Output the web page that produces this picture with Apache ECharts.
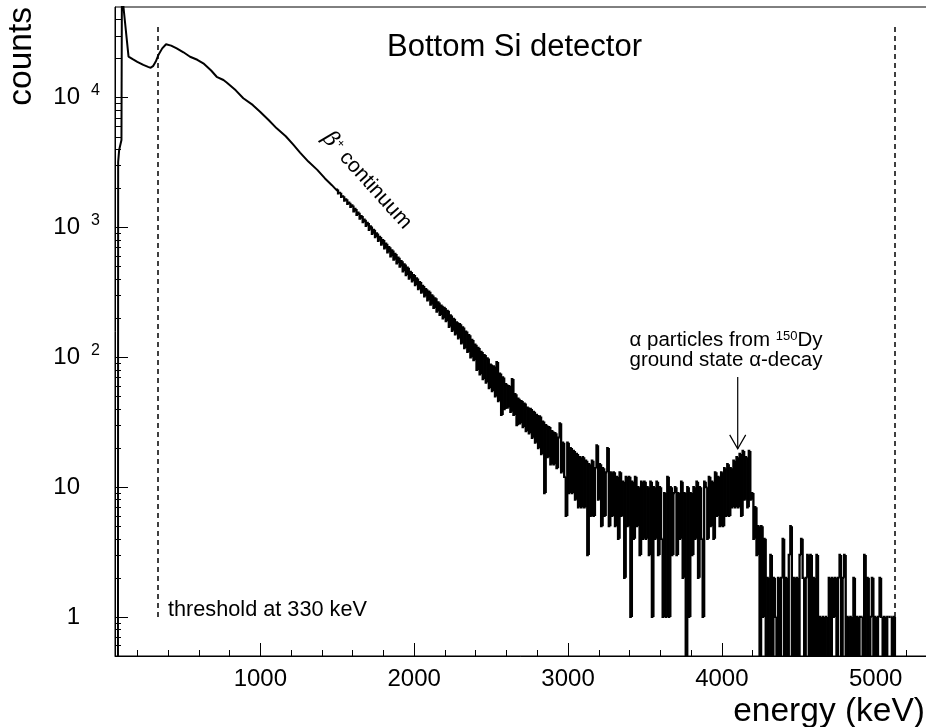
<!DOCTYPE html>
<html><head><meta charset="utf-8">
<script src="https://cdn.jsdelivr.net/npm/echarts@6/dist/echarts.min.js"></script>
<style>html,body{margin:0;padding:0;background:#fff}#c{width:926px;height:727px}</style>
</head><body><div id="c"></div>
<script>
// ---------- axis ticks / labels ----------
const xMajorTicks = [1000, 2000, 3000, 4000, 5000];
const xMajorLabels = ['1000', '2000', '3000', '4000', '5000'];
const xMinorTicks = [200, 400, 600, 800, 1200, 1400, 1600, 1800, 2200, 2400, 2600, 2800,
  3200, 3400, 3600, 3800, 4200, 4400, 4600, 4800, 5200];
const yMajorTicks = [1, 10, 100, 1000, 10000];
const yLabelBase = ['1', '10', '10', '10', '10'];
const yLabelExp = ['', '', '2', '3', '4'];
const yMinorTicks = [0.6, 0.7, 0.8, 0.9, 2, 3, 4, 5, 6, 7, 8, 9, 20, 30, 40, 50, 60, 70, 80, 90,
  200, 300, 400, 500, 600, 700, 800, 900, 2000, 3000, 4000, 5000, 6000, 7000, 8000, 9000,
  20000, 30000, 40000];

// ---------- smooth low-energy part of the spectrum (keV, counts) ----------
const smoothEnergy = [55, 74, 75.5, 82, 97, 101, 107, 110, 143, 170, 200, 239, 270, 287, 304, 320, 337,
  362, 387, 420, 456, 500, 543, 590, 629, 680, 716, 760, 781, 840, 889, 950, 998, 1055, 1106,
  1165, 1214, 1258, 1312, 1370, 1420, 1465, 1500];
const smoothCounts = [0, 0, 3200, 3950, 4720, 200000, 200000, 50000, 20700, 19800, 18900, 17900, 17300,
  17000, 17600, 19000, 21300, 24000, 25800, 25200, 24000, 22400, 20700, 19600, 18400, 16200,
  14500, 13700, 13100, 11400, 9900, 8800, 7800, 6700, 5810, 5050, 4350, 3780, 3220, 2780, 2390,
  2120, 1915];

// ---------- finely binned part of the spectrum (10 keV bins from 1500 keV) ----------
const histStart = 1500;
const histStep = 10;
const histCounts = [
  1960,1830,1850,1720,1740,1610,1650,1520,1555,1440,
  1480,1330,1390,1250,1300,1170,1225,1100,1150,1030,
  1085,960,1020,895,960,845,900,790,845,740,
  800,690,750,645,705,600,665,565,625,530,
  585,500,550,460,520,430,490,405,455,385,
  430,360,405,335,380,315,355,295,335,275,
  320,255,300,240,285,225,265,212,250,200,
  240,190,228,172,210,160,198,150,186,140,
  180,128,170,118,158,110,148,100,136,95,
  125,80,118,74,110,68,104,64,98,58,
  88,55,85,50,92,46,75,36,70,40,
  62,41,60,38,68,36,52,30,48,31,
  46,29,44,27,41,26,40,24,38,22,
  36,20,35,18,32,9,30,17,29,15,
  27,15,26,14,24,31,13,22,12,6,
  22,9,20,9,19,8,18,7,17,7,
  17,7,16,3,15,6,16,6,14,21,
  8,15,5,14,6,13,20,5,13,6,
  13,5,12,4,13,6,11,2,12,5,
  12,1,11,4,12,5,10,3,11,4,
  11,4,10,3,11,1,10,4,11,3,
  10,4,1,9,1,12,1,10,3,9,
  10,3,9,4,11,2,9,0,10,1,
  9,3,10,4,11,2,10,4,1,11,
  10,4,12,5,11,4,13,6,12,5,
  13,5,14,6,15,6,14,7,16,7,
  17,7,18,6,19,8,17,7,19,8,
  9,4,7,3,5,0,5,1,4,0,
  2,0,3,0,2,1,0,2,0,2,
  4,0,2,0,3,5,0,2,0,2,
  0,3,4,2,0,2,3,0,3,0,
  2,0,3,0,1,0,1,0,1,0,
  2,0,2,1,2,0,2,3,0,2,
  3,0,1,0,1,0,2,0,1,0,
  1,1,0,3,0,2,0,1,2,0,
  1,0,1,2,1,0,1,0,1,1,
  1,0,1,0
];

// ---------- reference lines & annotation anchors (data coords) ----------
const thresholdEnergy = 330;
const endpointEnergy = 5125;
const dashedFromCounts = 1;
const dashedToCounts = 35000;
const alphaArrowEnergy = 4103;
const alphaArrowFrom = 70.5;
const alphaArrowTo = 19.7;

const FONT = 'Liberation Sans';
const ZERO_DRAW = 0.05; // empty bins are drawn below the log axis bottom (clipped)

const smoothData = smoothEnergy.map((e, i) => [e, smoothCounts[i] > 0 ? smoothCounts[i] : ZERO_DRAW]);
const histData = histCounts.map((c, i) => [histStart + i * histStep, c > 0 ? c : ZERO_DRAW]);

const chart = echarts.init(document.getElementById('c'), null, {renderer: 'canvas'});

const axisCommon = {type: 'value', min: 55, max: 5340, splitLine: {show: false}};
const yCommon = {type: 'log', logBase: 10, min: 0.5, max: 50000, splitLine: {show: false}};

// step-histogram drawing for one bin: vertical from previous bin's level, then the bin's top
function renderBin(params, api) {
  const i = params.dataIndex;
  const e = api.value(0);
  const c = api.value(1);
  const prev = i > 0 ? histData[i - 1][1] : smoothData[smoothData.length - 1][1];
  const left = i > 0 ? e - histStep / 2 : e;
  const right = e + histStep / 2;
  const p0 = api.coord([left, prev]);
  const p1 = api.coord([left, c]);
  const p2 = api.coord([right, c]);
  return {
    type: 'polyline',
    shape: {points: [p0, p1, p2]},
    style: {stroke: '#000', lineWidth: 2.3, fill: null, lineJoin: 'miter'}
  };
}

chart.setOption({
  animation: false,
  backgroundColor: '#fff',
  grid: {left: 115, top: 7, width: 813, height: 649, show: true, borderColor: '#000', borderWidth: 1,
    outerBoundsMode: 'none', containLabel: false},
  xAxis: [
    Object.assign({}, axisCommon, {
      position: 'bottom',
      axisLine: {show: true, onZero: false, lineStyle: {color: '#000', width: 1}},
      axisTick: {show: true, inside: true, length: 13, customValues: xMajorTicks, lineStyle: {color: '#000', width: 1}},
      axisLabel: {show: true, customValues: xMajorTicks, margin: 11, color: '#000', fontSize: 24, fontFamily: FONT,
        formatter: v => { const i = xMajorTicks.indexOf(v); return i >= 0 ? xMajorLabels[i] : ''; }}
    }),
    Object.assign({}, axisCommon, {
      position: 'bottom',
      axisLine: {show: false, onZero: false},
      axisTick: {show: true, inside: true, length: 6, customValues: xMinorTicks, lineStyle: {color: '#000', width: 1}},
      axisLabel: {show: false}
    })
  ],
  yAxis: [
    Object.assign({}, yCommon, {
      position: 'left',
      axisLine: {show: true, onZero: false, lineStyle: {color: '#000', width: 1}},
      axisTick: {show: true, inside: true, length: 13, customValues: yMajorTicks, lineStyle: {color: '#000', width: 1}},
      axisLabel: {show: true, customValues: yMajorTicks, margin: 15, color: '#000', fontFamily: FONT,
        formatter: v => {
          const i = yMajorTicks.findIndex(t => Math.abs(t - v) / t < 1e-6);
          if (i < 0) return '';
          return yLabelExp[i] ? '{n|' + yLabelBase[i] + '}{s|' + yLabelExp[i] + '}'
                              : '{n|' + yLabelBase[i] + '}{pad| }';
        },
        rich: {
          n: {fontSize: 24, fontFamily: FONT, color: '#000', lineHeight: 30},
          s: {fontSize: 16, fontFamily: FONT, color: '#000', width: 20, align: 'right', verticalAlign: 'top', lineHeight: 16},
          pad: {fontSize: 16, width: 20}
        }}
    }),
    Object.assign({}, yCommon, {
      position: 'left',
      axisLine: {show: false, onZero: false},
      axisTick: {show: true, inside: true, length: 6, customValues: yMinorTicks, lineStyle: {color: '#000', width: 1}},
      axisLabel: {show: false}
    })
  ],
  series: [
    {
      type: 'line', name: 'low', xAxisIndex: 0, yAxisIndex: 0, data: smoothData,
      showSymbol: false, symbol: 'none', clip: true, silent: true,
      lineStyle: {color: '#000', width: 2},
      markLine: {
        silent: true, symbol: 'none', label: {show: false},
        lineStyle: {color: '#000', width: 1.5, type: [5, 4]},
        data: [
          [{coord: [thresholdEnergy, dashedFromCounts]}, {coord: [thresholdEnergy, dashedToCounts]}],
          [{coord: [endpointEnergy, dashedFromCounts]}, {coord: [endpointEnergy, dashedToCounts]}]
        ]
      }
    },
    {
      type: 'custom', name: 'hist', xAxisIndex: 0, yAxisIndex: 0, data: histData,
      encode: {x: 0, y: 1}, clip: true, silent: true, renderItem: renderBin
    }
  ]
});

// annotations
const tail = chart.convertToPixel({xAxisIndex: 0, yAxisIndex: 0}, [alphaArrowEnergy, alphaArrowFrom]);
const tip = chart.convertToPixel({xAxisIndex: 0, yAxisIndex: 0}, [alphaArrowEnergy, alphaArrowTo]);

chart.setOption({
  graphic: {elements: [
    {type: 'text', x: 514.5, y: 47, style: {text: 'Bottom Si detector', fontSize: 31, fontFamily: FONT, fill: '#000', align: 'center', verticalAlign: 'middle'}},
    {type: 'text', x: 21.5, y: 7, rotation: Math.PI / 2, style: {text: 'counts', fontSize: 33.5, fontFamily: FONT, fill: '#000', align: 'right', verticalAlign: 'middle'}},
    {type: 'text', x: 925, y: 711.5, style: {text: 'energy (keV)', fontSize: 33.5, fontFamily: FONT, fill: '#000', align: 'right', verticalAlign: 'middle'}},
    {type: 'text', x: 168, y: 610.5, style: {text: 'threshold at 330 keV', fontSize: 21.7, fontFamily: FONT, fill: '#000', align: 'left', verticalAlign: 'middle'}},
    {type: 'text', x: 326, y: 135, rotation: -0.838, style: {
      text: '{g|β}{p|+} continuum', fontSize: 21, fontFamily: FONT, fill: '#000', align: 'left', verticalAlign: 'middle',
      rich: {g: {fontSize: 22, fontStyle: 'italic', fontFamily: 'DejaVu Serif', fill: '#000'},
             p: {fontSize: 12, fontFamily: FONT, fill: '#000', verticalAlign: 'top'}}}},
    {type: 'text', x: 726, y: 330, style: {
      text: '{a|α particles from }{sup|150}{a|Dy}\n{a|ground state α-decay}', fill: '#000', align: 'center', verticalAlign: 'top',
      rich: {a: {fontSize: 20.5, fontFamily: FONT, fill: '#000', lineHeight: 20.5},
             sup: {fontSize: 13, fontFamily: FONT, fill: '#000', verticalAlign: 'top', lineHeight: 13}}}},
    {type: 'line', shape: {x1: tail[0], y1: tail[1], x2: tip[0], y2: tip[1]}, style: {stroke: '#000', lineWidth: 1.2}},
    {type: 'polyline', shape: {points: [[tip[0] - 8, tip[1] - 14], [tip[0], tip[1]], [tip[0] + 8, tip[1] - 14]]},
      style: {stroke: '#000', lineWidth: 1.2, fill: null}}
  ]}
});
</script>
</body></html>
